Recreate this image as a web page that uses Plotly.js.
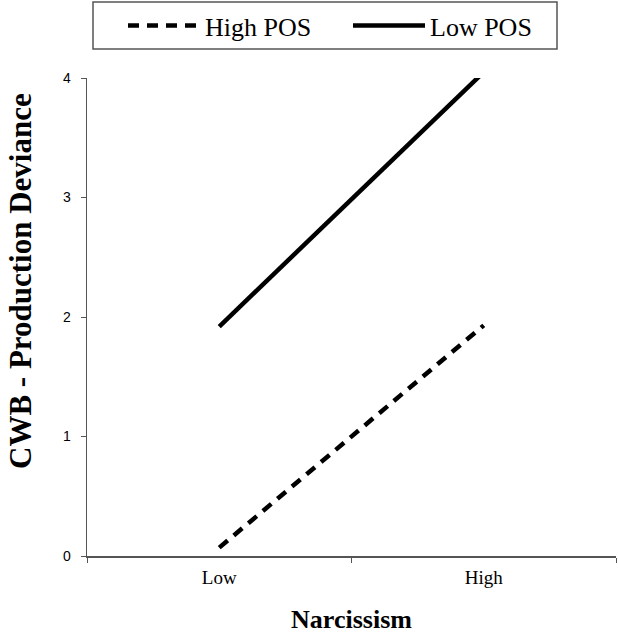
<!DOCTYPE html>
<html>
<head>
<meta charset="utf-8">
<script src="https://cdn.plot.ly/plotly-3.0.1.min.js"></script>
<style>html,body{margin:0;padding:0;background:#fff;}#chart{width:618px;height:634px;}</style>
</head>
<body>
<div id="chart"></div>
<script>
const categories = ["Low", "High"];
const seriesNames = ["High POS", "Low POS"];
const highPOS = [0.07, 1.93];
const lowPOS = [1.92, 4.05];
const yTicks = [0, 1, 2, 3, 4];
const xTitle = "Narcissism";
const yTitle = "CWB - Production Deviance";

const serif = "Liberation Serif, Times New Roman, serif";

const traces = [
  {
    x: categories, y: highPOS, name: seriesNames[0], type: "scatter", mode: "lines",
    line: {color: "#000", width: 4.5, dash: "11px,8px"}
  },
  {
    x: categories, y: lowPOS, name: seriesNames[1], type: "scatter", mode: "lines",
    line: {color: "#000", width: 4.5}
  }
];

const layout = {
  width: 618, height: 634,
  margin: {l: 87, r: 2, t: 78, b: 78},
  paper_bgcolor: "#fff", plot_bgcolor: "#fff",
  showlegend: true,
  legend: {
    orientation: "h", xref: "container", yref: "container",
    x: 123/618, xanchor: "left", y: 1 - 2/634, yanchor: "top",
    bgcolor: "rgba(0,0,0,0)", borderwidth: 0,
    font: {family: serif, size: 26, color: "#000"},
    itemwidth: 72, entrywidth: 138, tracegroupgap: 0
  },
  shapes: [{
    type: "rect", xref: "paper", yref: "paper",
    x0: (93 - 87) / 529, x1: (557 - 87) / 529,
    y0: (556 - 49) / 478, y1: (556 - 2) / 478,
    line: {color: "#555", width: 1.5}, fillcolor: "rgba(0,0,0,0)", layer: "below"
  }],
  annotations: [{
    text: yTitle, textangle: -90, showarrow: false,
    xref: "paper", yref: "paper",
    x: (20 - 87) / 529, y: (556 - 281) / 478, xanchor: "center", yanchor: "middle",
    font: {family: serif, size: 31, color: "#000", weight: "bold"}
  }],
  xaxis: {
    type: "category", range: [-0.5, 1.5], tickson: "boundaries",
    ticks: "outside", ticklen: 5, tickcolor: "#555", tickwidth: 1,
    showline: true, linecolor: "#555", linewidth: 1.5, showgrid: false, zeroline: false,
    ticklabelstandoff: 4,
    tickfont: {family: serif, size: 19, color: "#000"},
    title: {text: xTitle, standoff: 27,
      font: {family: serif, size: 26, color: "#000", weight: "bold"}}
  },
  yaxis: {
    range: [0, 4], tickvals: yTicks, ticktext: yTicks.map(String),
    ticks: "outside", ticklen: 5, tickcolor: "#555", tickwidth: 1,
    showline: true, linecolor: "#555", linewidth: 1.5, showgrid: false, zeroline: false,
    ticklabelstandoff: 7,
    tickfont: {family: "Liberation Sans, Arial, sans-serif", size: 14, color: "#000"}
  }
};

Plotly.newPlot("chart", traces, layout, {displayModeBar: false, staticPlot: true});
</script>
</body>
</html>
